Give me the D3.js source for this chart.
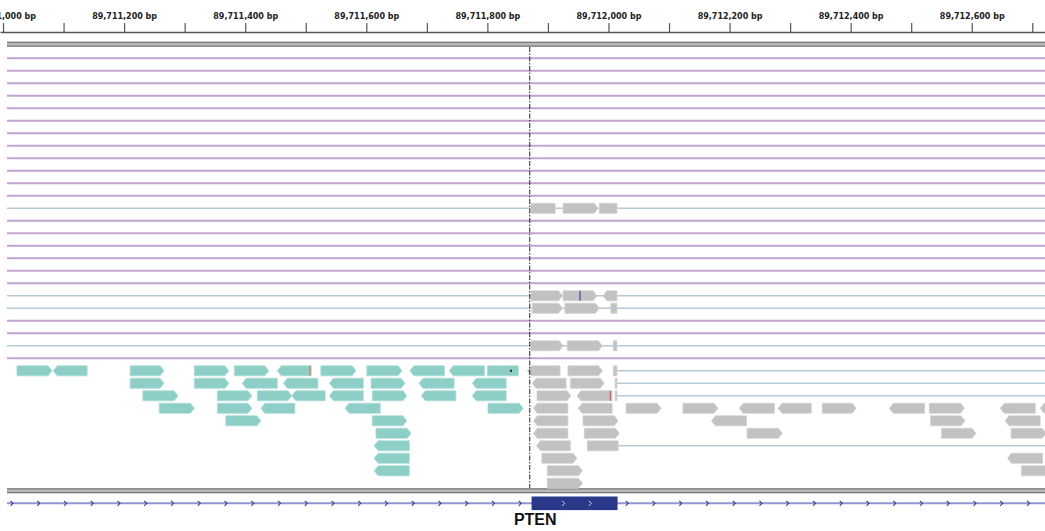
<!DOCTYPE html>
<html>
<head>
<meta charset="utf-8">
<script src="https://cdn.jsdelivr.net/npm/d3@7/dist/d3.min.js"></script>
<style>
  html, body { margin: 0; padding: 0; background: #fff; }
  svg { display: block; }
</style>
</head>
<body>
<svg id="chart" width="1045" height="531"></svg>
<script>
// Visible window on the chromosome (bp)
const viewRange = [89710995, 89712721];
const centerPos = 89711870;

// Ruler ticks every 100 bp, labels every 200 bp
const tickPositions = [89711000, 89711100, 89711200, 89711300, 89711400, 89711500,
  89711600, 89711700, 89711800, 89711900, 89712000, 89712100, 89712200, 89712300,
  89712400, 89712500, 89712600, 89712700];
const labelledTicks = [89711000, 89711200, 89711400, 89711600, 89711800,
  89712000, 89712200, 89712400, 89712600];

// Rows whose pairs span the whole window (purple links)
const purpleLinkRows = [0, 1, 2, 3, 4, 5, 6, 7, 8, 9, 10, 11, 13, 14, 15, 16, 17, 18, 21, 22, 24];

// Blue mate links: [row, start, end]
const blueLinks = [
  [12, 89710995, 89712721], [19, 89710995, 89712721], [20, 89710995, 89712721],
  [23, 89710995, 89712721], [25, 89712014, 89712721], [26, 89712014, 89712721],
  [27, 89712014, 89712721], [31, 89712016, 89712721]
];

// Teal reads: [row, start, end, strand]
const tealReads = [
  [25, 89711023, 89711081, "+"], [25, 89711083, 89711139, "-"], [25, 89711210, 89711266, "+"],
  [25, 89711316, 89711373, "+"], [25, 89711382, 89711439, "+"], [25, 89711453, 89711509, "-"],
  [25, 89711525, 89711583, "+"], [25, 89711601, 89711659, "+"], [25, 89711672, 89711729, "-"],
  [25, 89711737, 89711795, "-"], [25, 89711800, 89711851, ""],
  [26, 89711210, 89711266, "+"], [26, 89711316, 89711373, "+"], [26, 89711395, 89711453, "-"],
  [26, 89711463, 89711520, "-"], [26, 89711539, 89711595, "-"], [26, 89711608, 89711664, "+"],
  [26, 89711687, 89711745, "-"], [26, 89711775, 89711831, "-"],
  [27, 89711231, 89711289, "+"], [27, 89711354, 89711411, "+"], [27, 89711420, 89711477, "+"],
  [27, 89711477, 89711532, "-"], [27, 89711539, 89711595, "-"], [27, 89711610, 89711667, "+"],
  [27, 89711691, 89711748, "-"], [27, 89711775, 89711831, "-"],
  [28, 89711258, 89711316, "+"], [28, 89711354, 89711411, "+"], [28, 89711426, 89711482, "-"],
  [28, 89711565, 89711623, "-"], [28, 89711801, 89711859, "+"],
  [29, 89711368, 89711426, "+"], [29, 89711610, 89711667, "+"],
  [30, 89711616, 89711674, "+"],
  [31, 89711613, 89711671, "-"],
  [32, 89711613, 89711671, "-"],
  [33, 89711613, 89711671, "-"]
];

// Grey reads: [row, start, end, strand]
const greyReads = [
  [12, 89711872, 89711912, ""], [12, 89711925, 89711983, "+"], [12, 89711985, 89712014, ""],
  [19, 89711872, 89711924, "+"], [19, 89711925, 89711981, "+"], [19, 89711991, 89712014, "-"],
  [20, 89711874, 89711924, "+"], [20, 89711928, 89711985, "+"], [20, 89712004, 89712014, ""],
  [23, 89711872, 89711925, "+"], [23, 89711932, 89711990, "+"], [23, 89712008, 89712014, ""],
  [25, 89711866, 89711920, "-"], [25, 89711933, 89711990, "+"], [25, 89712008, 89712014, ""],
  [26, 89711874, 89711930, "-"], [26, 89711937, 89711993, "+"], [26, 89712011, 89712014, ""],
  [27, 89711882, 89711938, "+"], [27, 89711948, 89712006, "-"], [27, 89712011, 89712014, ""],
  [28, 89711876, 89711933, "-"], [28, 89711950, 89712006, "-"], [28, 89712029, 89712087, "+"],
  [28, 89712123, 89712181, "+"], [28, 89712216, 89712274, "-"], [28, 89712280, 89712335, "-"],
  [28, 89712353, 89712409, "+"], [28, 89712464, 89712522, "-"], [28, 89712530, 89712588, "+"],
  [28, 89712647, 89712705, "-"], [28, 89712713, 89712770, "-"],
  [29, 89711876, 89711933, "-"], [29, 89711958, 89712016, "+"], [29, 89712170, 89712228, "-"],
  [29, 89712532, 89712589, "+"], [29, 89712655, 89712713, "-"],
  [30, 89711876, 89711933, "-"], [30, 89711960, 89712018, "+"], [30, 89712229, 89712287, "+"],
  [30, 89712550, 89712607, "+"], [30, 89712665, 89712723, "+"],
  [31, 89711881, 89711937, "-"], [31, 89711965, 89712016, ""],
  [32, 89711890, 89711948, "+"], [32, 89712659, 89712717, "-"],
  [33, 89711899, 89711957, "+"], [33, 89712682, 89712740, ""],
  [34, 89711899, 89711957, "+"]
];

// Mismatched bases: [row, position, colour]
const mismatches = [
  [25, 89711507, "#e8743b"],
  [27, 89712003, "#e25555"],
  [19, 89711953, "#3a4aa8"]
];
const insertionDots = [[25, 89711839]];

// Gene annotation
const geneName = "PTEN";
const geneExon = [89711873, 89712015];
const geneLabelPos = 89711879;

// ---------------------------------------------------------------
const W = 1045, H = 531;
const svg = d3.select("#chart");
const x = d3.scaleLinear().domain(viewRange).range([0, W]);
const y = d3.scaleLinear().domain([0, 34]).range([58.3, 483.3]);
const READ_H = 10, TIP = 4;

svg.append("defs").append("clipPath").attr("id", "panel")
  .append("rect").attr("x", 7).attr("y", 34).attr("width", W - 7).attr("height", H - 34);

// Ruler
const axis = d3.axisTop(x)
  .tickValues(tickPositions)
  .tickSize(9)
  .tickSizeOuter(0)
  .tickPadding(4)
  .tickFormat(d => labelledTicks.includes(d) ? d3.format(",")(d) + " bp" : "");
const ax = svg.append("g").attr("transform", "translate(0,32)").call(axis);
ax.select(".domain").attr("stroke", "#555").attr("stroke-width", 1.5);
ax.selectAll(".tick line").attr("stroke", "#555").attr("stroke-width", 1.2);
ax.selectAll(".tick text")
  .attr("font-family", "DejaVu Sans")
  .attr("font-weight", "bold")
  .attr("font-size", 8)
  .attr("fill", "#222");

const panel = svg.append("g").attr("clip-path", "url(#panel)");

// Track separators (double grey rules)
function separator(y0) {
  panel.append("rect").attr("x", 0).attr("y", y0).attr("width", W).attr("height", 5)
    .attr("fill", "#b8b8b8");
  [y0 + 0.6, y0 + 4.4].forEach(yy =>
    panel.append("line").attr("x1", 0).attr("x2", W).attr("y1", yy).attr("y2", yy)
      .attr("stroke", "#7c7c7c").attr("stroke-width", 1.2));
}
separator(41.8);
separator(488.2);

// Long purple links
panel.append("g").selectAll("line").data(purpleLinkRows).join("line")
  .attr("x1", x(viewRange[0])).attr("x2", x(viewRange[1]))
  .attr("y1", d => y(d)).attr("y2", d => y(d))
  .attr("stroke", "#c2a3cf").attr("stroke-width", 2);

// Blue mate links
panel.append("g").selectAll("line").data(blueLinks).join("line")
  .attr("x1", d => x(d[1])).attr("x2", d => x(d[2]))
  .attr("y1", d => y(d[0])).attr("y2", d => y(d[0]))
  .attr("stroke", "#b3cbd6").attr("stroke-width", 1.6);

// Read glyph: box with a pointed end on the strand side
function readPath(d) {
  const x0 = x(d[1]), x1 = x(d[2]);
  const t = y(d[0]) - READ_H / 2, b = y(d[0]) + READ_H / 2, m = y(d[0]);
  if (d[3] === "+") return `M${x0},${t}H${x1 - TIP}L${x1},${m}L${x1 - TIP},${b}H${x0}Z`;
  if (d[3] === "-") return `M${x0 + TIP},${t}H${x1}V${b}H${x0 + TIP}L${x0},${m}Z`;
  return `M${x0},${t}H${x1}V${b}H${x0}Z`;
}

panel.append("g").selectAll("path").data(tealReads).join("path")
  .attr("d", readPath).attr("fill", "#8dcfc6")
  .attr("stroke", "#a9dcd5").attr("stroke-width", 0.8);

panel.append("g").selectAll("path").data(greyReads).join("path")
  .attr("d", readPath).attr("fill", "#c2c2c2")
  .attr("stroke", "#d2d2d2").attr("stroke-width", 0.8);

panel.append("g").selectAll("line").data(mismatches).join("line")
  .attr("x1", d => x(d[1])).attr("x2", d => x(d[1]))
  .attr("y1", d => y(d[0]) - READ_H / 2).attr("y2", d => y(d[0]) + READ_H / 2)
  .attr("stroke", d => d[2]).attr("stroke-width", 1.2);

panel.append("g").selectAll("rect").data(insertionDots).join("rect")
  .attr("x", d => x(d[1]) - 1).attr("y", d => y(d[0]) - 1)
  .attr("width", 2).attr("height", 2).attr("fill", "#222");

// Centre line
panel.append("line")
  .attr("x1", x(centerPos)).attr("x2", x(centerPos))
  .attr("y1", 47).attr("y2", 488)
  .attr("stroke", "#222").attr("stroke-width", 1)
  .attr("stroke-dasharray", "5,1.5,1.5,1.5");

// Gene track
const GENE_Y = 503.3;
panel.append("line").attr("x1", x(viewRange[0])).attr("x2", x(viewRange[1]))
  .attr("y1", GENE_Y).attr("y2", GENE_Y)
  .attr("stroke", "#9494d2").attr("stroke-width", 2);

// Strand chevrons along the intron
const ex0 = x(geneExon[0]), ex1 = x(geneExon[1]);
const chevX = d3.range(11.7, W, 26.75).filter(c => c < ex0 - 3 || c > ex1 + 3);
function chevron(cx) { return `M${cx - 1.2},${GENE_Y - 2.5}L${cx + 1.3},${GENE_Y}L${cx - 1.2},${GENE_Y + 2.5}`; }
panel.append("g").selectAll("path").data(chevX).join("path")
  .attr("d", chevron).attr("fill", "none").attr("stroke", "#3c3c9c").attr("stroke-width", 1.1);

panel.append("rect")
  .attr("x", ex0).attr("y", GENE_Y - 6.8)
  .attr("width", ex1 - ex0).attr("height", 13.6)
  .attr("fill", "#2a388a");

const exonChev = [ex0 + (ex1 - ex0) * 0.37, ex0 + (ex1 - ex0) * 0.68];
panel.append("g").selectAll("path").data(exonChev).join("path")
  .attr("d", chevron).attr("fill", "none").attr("stroke", "#d8dcf0").attr("stroke-width", 1);

svg.append("text")
  .attr("x", x(geneLabelPos)).attr("y", 525)
  .attr("text-anchor", "middle")
  .attr("font-family", "Liberation Sans, Arial, sans-serif")
  .attr("font-weight", "bold")
  .attr("font-size", 16)
  .attr("fill", "#111")
  .text(geneName);
</script>
</body>
</html>
